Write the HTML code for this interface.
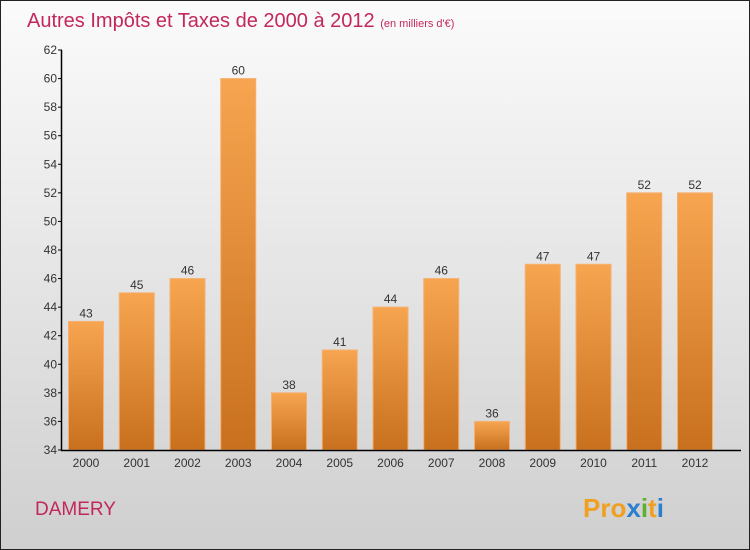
<!DOCTYPE html>
<html><head><meta charset="utf-8"><style>
body{margin:0}
#c{position:relative;width:748px;height:548px;border:1px solid #222;background:linear-gradient(#fbfbfb,#cfcfcf);font-family:"Liberation Sans",sans-serif;overflow:hidden}
</style></head><body>
<div id="c">
<svg id="s" width="748" height="548" style="position:absolute;left:0;top:0">
<defs><linearGradient id="g" x1="0" y1="0" x2="0" y2="1"><stop offset="0" stop-color="#f7a550"/><stop offset="1" stop-color="#c8701e"/></linearGradient></defs>
<text x="26" y="26" font-size="20" fill="#c2285a">Autres Impôts et Taxes de 2000 à 2012 <tspan font-size="11">(en milliers d'€)</tspan></text>
<text x="34" y="514" font-size="19" fill="#c2285a">DAMERY</text>
<text x="582" y="516" font-size="26" font-weight="bold"><tspan fill="#f0a020">Pro</tspan><tspan fill="#2a7fd0">x</tspan><tspan fill="#60b030">i</tspan><tspan fill="#f0a020">t</tspan><tspan fill="#2a7fd0">i</tspan></text>
<g id="plot"></g>
</svg>
</div>
<script>
const categories=["2000","2001","2002","2003","2004","2005","2006","2007","2008","2009","2010","2011","2012"];
const values=[43,45,46,60,38,41,44,46,36,47,47,52,52];
const yTicks=[34,36,38,40,42,44,46,48,50,52,54,56,58,60,62];
const yMin=34,yMax=62;
const ns="http://www.w3.org/2000/svg";
const g=document.getElementById('plot');
function y(v){return 449-(v-yMin)*(400/(yMax-yMin));}
function x(i){return 85+i*50.75;}
function mk(t,a){const e=document.createElementNS(ns,t);for(const k in a)e.setAttribute(k,a[k]);g.appendChild(e);return e;}
values.forEach((v,i)=>{
 const r=mk('rect',{x:x(i)-17.5,y:y(v),width:35,height:y(yMin)-y(v),fill:'url(#g)',stroke:'#f5b070','stroke-width':1});
 
 
 const t=mk('text',{x:x(i),y:y(v)-4,'font-size':12,fill:'#333','text-anchor':'middle'});
 t.textContent=v;
 
 
 const c=mk('text',{x:x(i),y:466,'font-size':12,fill:'#333','text-anchor':'middle'});
 c.textContent=categories[i];
 
 
});
yTicks.forEach(v=>{
 mk('line',{x1:57,x2:61,y1:y(v),y2:y(v),stroke:'#000'});
 const t=mk('text',{x:56,y:y(v)+4,'font-size':12,fill:'#333','text-anchor':'end'});
 t.textContent=v;
 
 
});
const ya=mk('line',{x1:60.5,x2:60.5,y1:y(yMax),y2:y(yMin)+0.5,stroke:'#000','stroke-width':1.5});


const xa=mk('line',{x1:60,x2:740,y1:y(yMin)+0.5,y2:y(yMin)+0.5,stroke:'#000','stroke-width':1.5});


</script>
</body></html>
